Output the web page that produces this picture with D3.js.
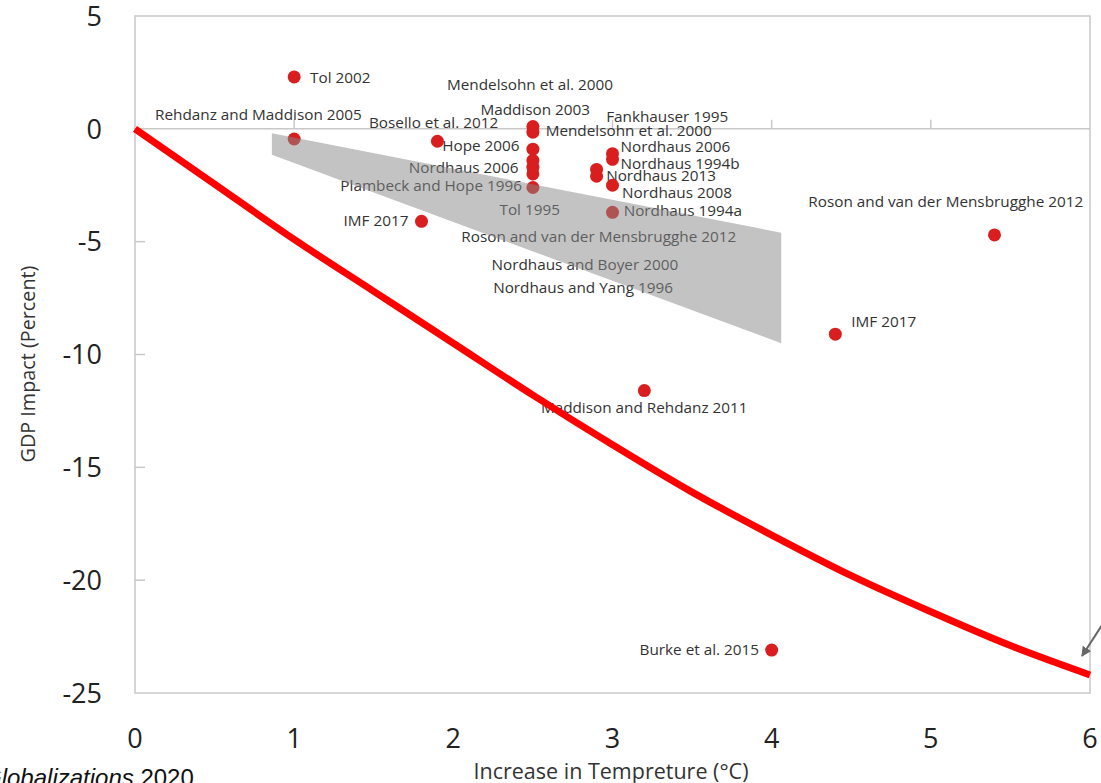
<!DOCTYPE html>
<html><head><meta charset="utf-8">
<script src="https://cdn.jsdelivr.net/npm/d3@7"></script>
<style>body{margin:0;background:#fff;overflow:hidden}</style>
</head><body>
<svg id="c" width="1101" height="783"></svg>
<script>
// ---- data ----
const xTicks = [0,1,2,3,4,5,6];
const yTicks = [5,0,-5,-10,-15,-20,-25];
const studyX = [1, 1, 1.9, 2.5, 2.5, 2.5, 2.5, 2.5, 2.5, 2.5, 2.9, 2.9, 3.0, 3.0, 3.0, 3.0, 1.8, 5.4, 4.4, 3.2, 4.0];
const studyY = [2.3, -0.45, -0.55, 0.1, -0.15, -0.9, -1.4, -1.7, -2.0, -2.6, -1.8, -2.1, -1.1, -1.35, -2.5, -3.7, -4.1, -4.7, -9.1, -11.6, -23.1];
const labelText = ["Tol 2002","Rehdanz and Maddison 2005","Mendelsohn et al. 2000","Maddison 2003","Bosello et al. 2012",
  "Fankhauser 1995","Mendelsohn et al. 2000","Hope 2006","Nordhaus 2006","Plambeck and Hope 1996","Tol 1995",
  "Nordhaus 2006","Nordhaus 1994b","Nordhaus 2013","Nordhaus 2008","Nordhaus 1994a","IMF 2017",
  "Roson and van der Mensbrugghe 2012","Nordhaus and Boyer 2000","Nordhaus and Yang 1996",
  "Roson and van der Mensbrugghe 2012","IMF 2017","Maddison and Rehdanz 2011","Burke et al. 2015"];
const labelX = [1.10,0.126,1.96,2.17,1.47,2.96,2.58,1.93,1.72,1.29,2.29,3.05,3.05,2.96,3.06,3.07,1.31,2.05,2.24,2.25,4.23,4.50,2.55,3.17];
const labelY = [2.27,0.62,1.96,0.84,0.27,0.53,-0.09,-0.76,-1.73,-2.53,-3.56,-0.8,-1.56,-2.09,-2.84,-3.64,-4.09,-4.76,-6.04,-7.02,-3.24,-8.53,-12.36,-23.07];
const labelAnchor = ["start","start","start","start","start","start","start","start","start","start","start",
  "start","start","start","start","start","start","start","start","start","start","start","start","start"];
const bandX = [0.86, 4.06, 4.06, 0.86];
const bandY = [-0.2, -4.6, -9.5, -1.15];
const curveX = [0, 0.5, 1, 1.5, 2, 2.5, 3, 3.5, 4, 4.5, 5, 5.5, 6];
const curveY = [0, -2.45, -4.9, -7.2, -9.5, -11.8, -14.0, -16.1, -18.0, -19.8, -21.4, -22.9, -24.2];

// ---- drawing ----
const svg = d3.select("#c");
const x = d3.scaleLinear().domain([0,6]).range([135,1090]);
const y = d3.scaleLinear().domain([-25,5]).range([693,16]);
const frame = "#c8c8c8";
const fontF = "'Open Sans', 'Noto Sans', sans-serif";

// frame
svg.append("rect").attr("x",x(0)).attr("y",y(5)).attr("width",x(6)-x(0)).attr("height",y(-25)-y(5))
  .attr("fill","none").attr("stroke",frame).attr("stroke-width",1.5);
// zero line
svg.append("line").attr("x1",x(0)).attr("x2",x(6)).attr("y1",y(0)).attr("y2",y(0)).attr("stroke",frame).attr("stroke-width",1.5);
// x ticks on zero line (upward)
svg.selectAll(".xt").data(xTicks.filter(d=>d>0&&d<6)).enter().append("line")
  .attr("x1",d=>x(d)).attr("x2",d=>x(d)).attr("y1",y(0)).attr("y2",y(0)-9).attr("stroke",frame).attr("stroke-width",1.5);
// y ticks inside left
svg.selectAll(".yt").data(yTicks.filter(d=>d<0&&d>-25)).enter().append("line")
  .attr("x1",x(0)).attr("x2",x(0)+10).attr("y1",d=>y(d)).attr("y2",d=>y(d)).attr("stroke",frame).attr("stroke-width",1.5);

// tick labels
svg.selectAll(".yl").data(yTicks).enter().append("text")
  .attr("x",102).attr("y",d=>y(d)).attr("dy","0.36em").attr("text-anchor","end")
  .attr("font-family",fontF).attr("font-size",27).attr("fill","#222").text(d=>d);
svg.selectAll(".xl").data(xTicks).enter().append("text")
  .attr("x",d=>x(d)).attr("y",738).attr("dy","0.36em").attr("text-anchor","middle")
  .attr("font-family",fontF).attr("font-size",27).attr("fill","#222").text(d=>d);

// axis titles
svg.append("text").attr("x",611).attr("y",771).attr("dy","0.36em").attr("text-anchor","middle")
  .attr("font-family",fontF).attr("font-size",21.5).attr("fill","#333").text("Increase in Tempreture (°C)");
svg.append("text").attr("transform","translate(28,364) rotate(-90)").attr("dy","0.36em").attr("text-anchor","middle")
  .attr("font-family",fontF).attr("font-size",19.8).attr("fill","#333").text("GDP Impact (Percent)");

// source note (cut at left edge as in the reference)
const src = svg.append("text").attr("x",-17).attr("y",786).attr("font-family","'Liberation Sans', Arial, sans-serif")
  .attr("font-size",24).attr("fill","#111");
src.append("tspan").attr("font-style","italic").text("Globalizations");
src.append("tspan").text(" 2020");

// labels
svg.selectAll(".lab").data(labelText).enter().append("text")
  .attr("x",(d,i)=>x(labelX[i])).attr("y",(d,i)=>y(labelY[i])).attr("dy","0.35em")
  .attr("text-anchor",(d,i)=>labelAnchor[i])
  .attr("font-family",fontF).attr("font-size",15.3).attr("fill","#333").text(d=>d);

// points
svg.selectAll(".pt").data(studyX).enter().append("circle")
  .attr("cx",d=>x(d)).attr("cy",(d,i)=>y(studyY[i])).attr("r",6.5).attr("fill","#d81e1e");

// band (semi-transparent, on top)
svg.append("path").attr("d", d3.line().x(d=>x(d[0])).y(d=>y(d[1]))(bandX.map((v,i)=>[v,bandY[i]])) + "Z")
  .attr("fill","#888").attr("fill-opacity",0.5);

// red curve
svg.append("path").attr("d", d3.line().curve(d3.curveMonotoneX).x(d=>x(d[0])).y(d=>y(d[1]))(curveX.map((v,i)=>[v,curveY[i]])))
  .attr("fill","none").attr("stroke","#ff0000").attr("stroke-width",7);

// arrow
svg.append("defs").append("marker").attr("id","ah").attr("viewBox","0 0 10 10").attr("refX",9).attr("refY",5)
  .attr("markerWidth",5).attr("markerHeight",5).attr("orient","auto")
  .append("path").attr("d","M0,0L10,5L0,10Z").attr("fill","#666");
svg.append("line").attr("x1",1104).attr("y1",622).attr("x2",1082).attr("y2",656)
  .attr("stroke","#666").attr("stroke-width",2).attr("marker-end","url(#ah)");
</script>
</body></html>
